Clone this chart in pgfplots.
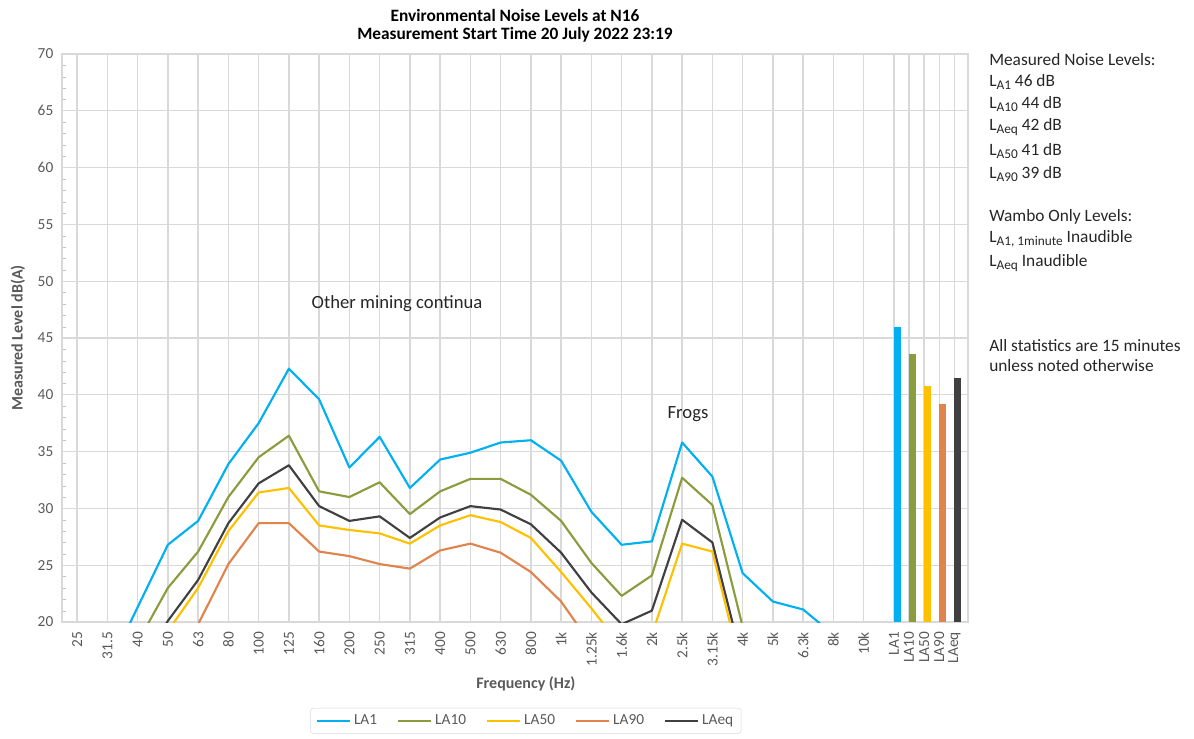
\documentclass[border=0pt]{standalone}
\usepackage{fontspec}
\setmainfont{Carlito}
\usepackage{pgfplots}
\usepackage{pgfplotstable}
\pgfplotsset{compat=1.18}
\definecolor{cLAone}{HTML}{00B0F0}
\definecolor{cLAten}{HTML}{8A9C3D}
\definecolor{cLAfifty}{HTML}{FFC000}
\definecolor{cLAninety}{HTML}{E0834D}
\definecolor{cLAeq}{HTML}{404040}
\definecolor{gridc}{HTML}{D9D9D9}
\definecolor{axc}{HTML}{BFBFBF}
\definecolor{txtc}{HTML}{595959}
\definecolor{notec}{HTML}{262626}
\newcommand{\sub}[1]{\raisebox{-0.35ex}{\fontsize{10}{10}\selectfont #1}}

\pgfplotstableread{
x LA1 LA10 LA50 LA90 LAeq
0 12 10 8 6 9
1 15.8 13 10 8 11
2 21.3 18.2 14 12 15.5
3 26.8 23.0 19.2 16 20.1
4 28.9 26.2 23.0 19.8 23.7
5 33.9 31.0 28.0 25.1 28.7
6 37.5 34.5 31.4 28.7 32.2
7 42.3 36.4 31.8 28.7 33.8
8 39.6 31.5 28.5 26.2 30.2
9 33.6 31.0 28.1 25.8 28.9
10 36.3 32.3 27.8 25.1 29.3
11 31.8 29.5 26.9 24.7 27.4
12 34.3 31.5 28.5 26.3 29.2
13 34.9 32.6 29.4 26.9 30.2
14 35.8 32.6 28.8 26.1 29.9
15 36.0 31.2 27.4 24.4 28.6
16 34.2 28.9 24.4 21.8 26.1
17 29.7 25.2 21.2 18.0 22.6
18 26.8 22.3 17.8 15.5 19.8
19 27.1 24.1 18.9 16 21.0
20 35.8 32.7 26.9 18 29.0
21 32.8 30.3 26.2 17 27.0
22 24.3 19.6 15.4 13 16.4
23 21.8 16 13 11 14
24 21.1 15 12 10 13
25 18.9 14 11 9 12
26 17 13 10 8 11
}\spectrum

\begin{document}
\begin{tikzpicture}
\path[use as bounding box] (0,0) rectangle (895.5pt,-553.5pt);
\begin{axis}[
  at={(46.5pt,-466.5pt)}, anchor=south west,
  scale only axis, width=679.5pt, height=426pt,
  xmin=-0.5, xmax=29.45, ymin=20, ymax=70,
  xtick={0,1,2,3,4,5,6,7,8,9,10,11,12,13,14,15,16,17,18,19,20,21,22,23,24,25,26,27,27.5,28,28.5,29},
  xticklabels={25,31.5,40,50,63,80,100,125,160,200,250,315,400,500,630,800,1k,1.25k,1.6k,2k,2.5k,3.15k,4k,5k,6.3k,8k,10k,LA1,LA10,LA50,LA90,LAeq},
  ytick={20,25,...,70},
  minor y tick num=4,
  major tick length=0pt,
  minor tick length=3pt,
  ytick pos=left, xtick pos=bottom,
  tick style={draw=axc},
  xmajorgrids, ymajorgrids,
  major grid style={draw=gridc, line width=1pt},
  axis line style={draw=gridc, line width=1pt},
  /pgf/number format/assume math mode=true,
  tick label style={font=\fontsize{11.5}{13}\selectfont, text=txtc},
  xticklabel style={rotate=90, anchor=east},
  xticklabel shift=4pt,
  yticklabel style={xshift=-3pt},
  ylabel={Measured Level dB(A)},
  ylabel style={at={(axis description cs:-0.0486,0.5)}, anchor=center, font=\fontsize{12}{14}\selectfont\bfseries, text=txtc},
  xlabel={Frequency (Hz)},
  xlabel style={at={(axis description cs:0.512,-0.109)}, anchor=center, font=\fontsize{12}{14}\selectfont\bfseries, text=txtc},
  title={Environmental Noise Levels at N16\\Measurement Start Time 20 July 2022 23:19},
  title style={at={(axis description cs:0.5,1.036)}, anchor=center, align=center, font=\fontsize{13}{13.5}\selectfont\bfseries},
  legend columns=5,
  legend style={at={(axis description cs:0.512,-0.174)}, anchor=center, draw=gridc, rounded corners=2pt,
    font=\fontsize{11.5}{13}\selectfont, text=txtc, inner xsep=4pt, inner ysep=3pt,
    /tikz/every even column/.append style={column sep=13pt}},
  legend image code/.code={\draw[#1, line width=1.6pt] (0pt,0pt) -- (25pt,0pt);},
  every axis plot/.append style={line width=1.6pt, line join=round},
]
\addplot[ybar, bar width=5.2pt, bar shift=2.6pt, fill=cLAone, draw=none, forget plot] coordinates {(27,46.0)};
\addplot[ybar, bar width=5.2pt, bar shift=2.6pt, fill=cLAten, draw=none, forget plot] coordinates {(27.5,43.6)};
\addplot[ybar, bar width=5.2pt, bar shift=2.6pt, fill=cLAfifty, draw=none, forget plot] coordinates {(28,40.8)};
\addplot[ybar, bar width=5.2pt, bar shift=2.6pt, fill=cLAninety, draw=none, forget plot] coordinates {(28.5,39.2)};
\addplot[ybar, bar width=5.2pt, bar shift=2.6pt, fill=cLAeq, draw=none, forget plot] coordinates {(29,41.5)};
\addplot[cLAone] table[x=x, y=LA1] {\spectrum};
\addlegendentry{LA1}
\addplot[cLAten] table[x=x, y=LA10] {\spectrum};
\addlegendentry{LA10}
\addplot[cLAfifty] table[x=x, y=LA50] {\spectrum};
\addlegendentry{LA50}
\addplot[cLAninety] table[x=x, y=LA90] {\spectrum};
\addlegendentry{LA90}
\addplot[cLAeq] table[x=x, y=LAeq] {\spectrum};
\addlegendentry{LAeq}
\end{axis}
\begin{scope}[x=0.75pt, y=-0.75pt, every node/.style={font=\fontsize{13}{15}\selectfont, text=notec, inner sep=0pt}]
\node[anchor=center, font=\fontsize{14}{16}\selectfont] at (397,304) {Other mining continua};
\node[anchor=center, font=\fontsize{14}{16}\selectfont] at (688,414) {Frogs};
\node[anchor=west] at (989,60) {Measured Noise Levels:};
\node[anchor=west] at (989,82) {L\sub{A1} 46 dB};
\node[anchor=west] at (989,104) {L\sub{A10} 44 dB};
\node[anchor=west] at (989,127) {L\sub{Aeq} 42 dB};
\node[anchor=west] at (989,151) {L\sub{A50} 41 dB};
\node[anchor=west] at (989,174) {L\sub{A90} 39 dB};
\node[anchor=west] at (989,217) {Wambo Only Levels:};
\node[anchor=west] at (989,239) {L\sub{A1, 1minute} Inaudible};
\node[anchor=west] at (989,263) {L\sub{Aeq} Inaudible};
\node[anchor=west] at (989,346) {All statistics are 15 minutes};
\node[anchor=west] at (989,366) {unless noted otherwise};
\end{scope}
\end{tikzpicture}
\end{document}
